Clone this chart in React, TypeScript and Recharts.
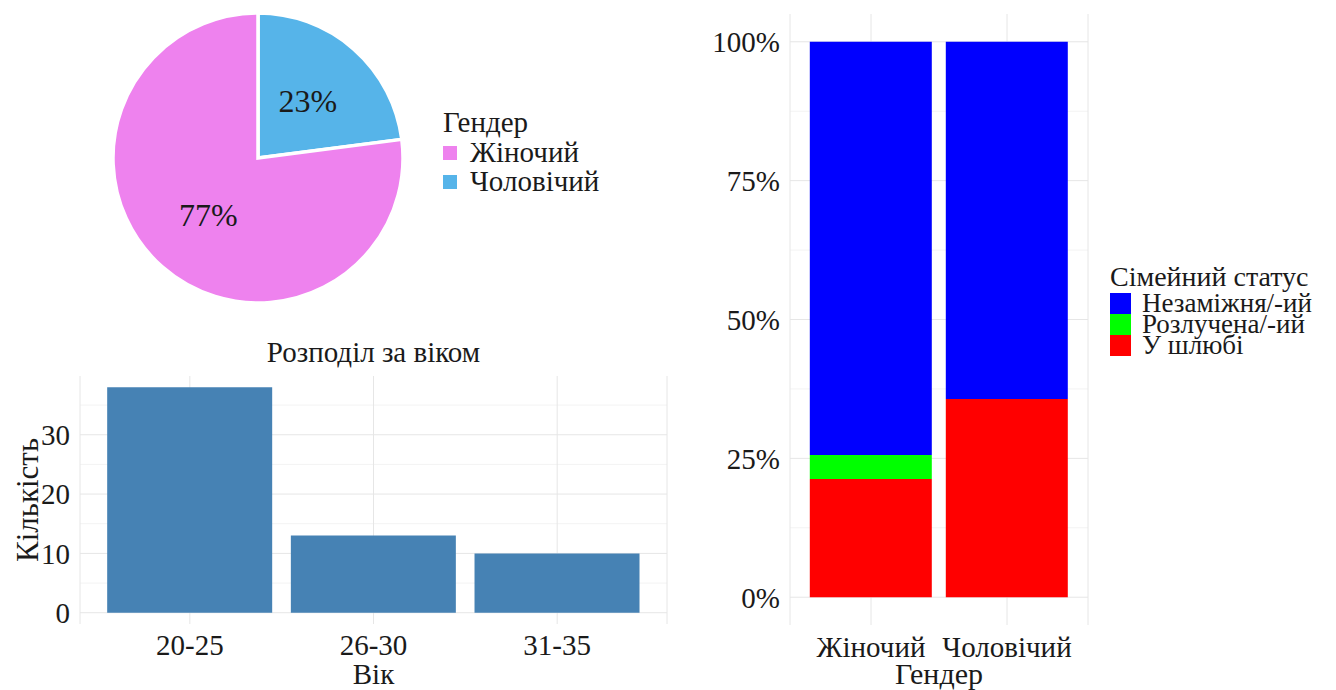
import {
  PieChart, Pie, Cell, BarChart, Bar, XAxis, YAxis, CartesianGrid,
} from 'recharts';

// gender split (counts)
const genderNames = ['Чоловічий', 'Жіночий'];
const genderCounts = [14, 47];
const genderColors = ['#56b4e9', '#ee82ee'];
const genderLegend = ['Жіночий', 'Чоловічий'];
const genderLegendColors = ['#ee82ee', '#56b4e9'];

// age distribution
const ageGroups = ['20-25', '26-30', '31-35'];
const ageCounts = [38, 13, 10];
const ageTicks = [0, 10, 20, 30];
const ageMinor = [5, 15, 25, 35];

// marital status by gender, percent of each gender
const genders = ['Жіночий', 'Чоловічий'];
const married = [21.3, 35.7];
const divorced = [4.3, 0];
const single = [74.4, 64.3];
const pctTicks = [0, 25, 50, 75, 100];
const pctMinor = [12.5, 37.5, 62.5, 87.5];
const statusLegend = ['Незаміжня/-ий', 'Розлучена/-ий', 'У шлюбі'];
const statusColors = ['#0000ff', '#00ff00', '#ff0000'];

const FONT = "'Liberation Serif', 'DejaVu Serif', 'Times New Roman', serif";
const TXT = '#1a1a1a';
const RAD = Math.PI / 180;

const pieData = genderNames.map((name, i) => ({ name, value: genderCounts[i] }));
const ageData = ageGroups.map((name, i) => ({ name, value: ageCounts[i] }));
const statusData = genders.map((name, i) => ({
  name, married: married[i], divorced: divorced[i], single: single[i],
}));

function pieLabel(props: any) {
  const { cx, cy, midAngle, outerRadius, percent } = props;
  const r = outerRadius * 0.52;
  const x = cx + r * Math.cos(-midAngle * RAD);
  const y = cy + r * Math.sin(-midAngle * RAD);
  return (
    <text x={x} y={y} textAnchor="middle" dominantBaseline="central"
      fontSize={32} fill={TXT} style={{ fontFamily: FONT }}>
      {`${Math.round(percent * 100)}%`}
    </text>
  );
}

function LegendBox({ title, items, colors, left, top, keySize, rowH, fontSize, titleSize, gap }: any) {
  return (
    <div style={{ position: 'absolute', left, top, fontFamily: FONT, color: TXT }}>
      <div style={{ fontSize: titleSize, lineHeight: '32px', whiteSpace: 'nowrap' }}>{title}</div>
      {items.map((t: string, i: number) => (
        <div key={t} style={{ display: 'flex', alignItems: 'center', height: rowH }}>
          <div style={{ width: keySize, height: keySize, background: colors[i], marginRight: gap }} />
          <span style={{ fontSize, lineHeight: `${rowH}px`, whiteSpace: 'nowrap' }}>{t}</span>
        </div>
      ))}
    </div>
  );
}

export default function App() {
  const tick = { fontSize: 29, fill: TXT, style: { fontFamily: FONT } };
  return (
    <div style={{
      position: 'absolute', left: 0, top: 0, width: 1336, height: 690,
      background: '#fff', fontFamily: FONT, overflow: 'hidden',
    }}>
      {/* pie */}
      <div style={{ position: 'absolute', left: 0, top: 0 }}>
        <PieChart width={430} height={310}>
          <Pie data={pieData} dataKey="value" nameKey="name" cx={253} cy={153}
            outerRadius={145} startAngle={90} endAngle={-270}
            stroke="#fff" strokeWidth={3.5} label={pieLabel} labelLine={false}
            isAnimationActive={false}>
            {pieData.map((d, i) => <Cell key={d.name} fill={genderColors[i]} />)}
          </Pie>
        </PieChart>
      </div>
      <LegendBox title="Гендер" items={genderLegend} colors={genderLegendColors}
        left={443} top={106} keySize={14} rowH={29} fontSize={29} titleSize={29} gap={13} />

      {/* age bars */}
      <div style={{
        position: 'absolute', left: 80, width: 587, top: 336, textAlign: 'center',
        fontSize: 29, color: TXT,
      }}>Розподіл за віком</div>
      <div style={{ position: 'absolute', left: 0, top: 330 }}>
        <BarChart width={680} height={360} data={ageData} barCategoryGap="5%"
          margin={{ top: 46, right: 13, left: 0, bottom: 0 }}>
          <CartesianGrid horizontalValues={ageMinor} vertical={false} stroke="#f3f3f3" />
          <CartesianGrid horizontalValues={ageTicks} stroke="#e6e6e6" />
          <XAxis dataKey="name" height={66} axisLine={false} tickLine={false}
            tick={tick} tickMargin={4} padding={{ left: 18, right: 18 }}
            label={{ value: 'Вік', position: 'insideBottom', offset: 6, fontSize: 29, fill: TXT, style: { fontFamily: FONT } }} />
          <YAxis width={80} domain={[-1.9, 39.9]} ticks={ageTicks} axisLine={false}
            tickLine={false} tick={tick} tickMargin={4}
            label={{ value: 'Кількість', angle: -90, position: 'center', dx: -13, fontSize: 31, fill: TXT, style: { fontFamily: FONT } }} />
          <Bar dataKey="value" fill="#4682b4" isAnimationActive={false} />
        </BarChart>
      </div>

      {/* marital status, 100% stacked */}
      <div style={{ position: 'absolute', left: 690, top: 0 }}>
        <BarChart width={420} height={690} data={statusData}
          barCategoryGap="5%" margin={{ top: 14, right: 22, left: 0, bottom: 0 }}>
          <CartesianGrid horizontalValues={pctMinor} vertical={false} stroke="#f3f3f3" />
          <CartesianGrid horizontalValues={pctTicks} stroke="#e6e6e6" />
          <XAxis dataKey="name" height={65} axisLine={false} tickLine={false}
            tick={tick} tickMargin={5} padding={{ left: 13, right: 13 }}
            label={{ value: 'Гендер', position: 'insideBottom', offset: 6, fontSize: 30, fill: TXT, style: { fontFamily: FONT } }} />
          <YAxis width={100} domain={[-5, 105]} ticks={pctTicks} axisLine={false}
            tickLine={false} tick={tick} tickMargin={4}
            tickFormatter={(v: number) => `${v}%`} />
          <Bar dataKey="married" stackId="s" fill="#ff0000" isAnimationActive={false} />
          <Bar dataKey="divorced" stackId="s" fill="#00ff00" isAnimationActive={false} />
          <Bar dataKey="single" stackId="s" fill="#0000ff" isAnimationActive={false} />
        </BarChart>
      </div>
      <LegendBox title="Сімейний статус" items={statusLegend} colors={statusColors}
        left={1110} top={261} keySize={21} rowH={21} fontSize={27} titleSize={28} gap={11} />
    </div>
  );
}
